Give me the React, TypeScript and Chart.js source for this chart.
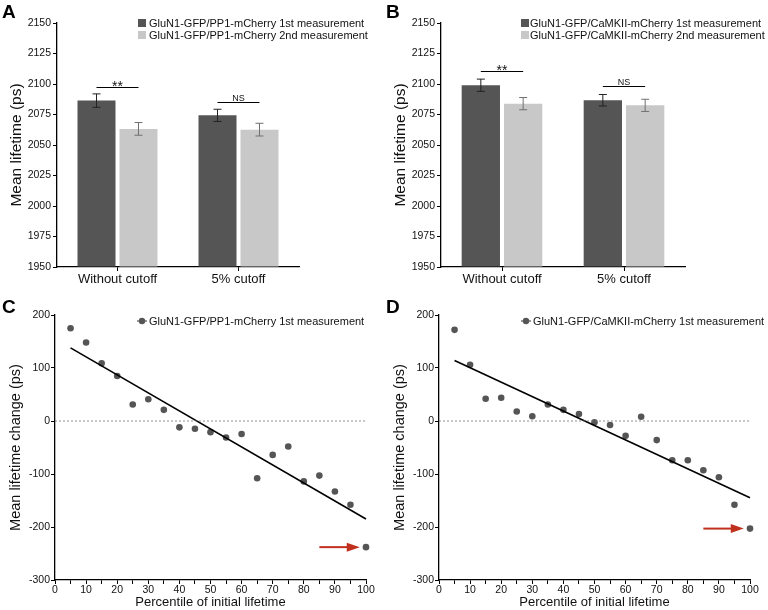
import React, { useEffect, useRef } from 'react';
import { Chart, registerables } from 'chart.js';

Chart.register(...registerables);

const FONT = "'Liberation Sans', Arial, Helvetica, sans-serif";
const TEXT = '#111111';
const DARK = '#555555';
const LIGHT = '#c8c8c8';
const RED = '#c0301e';

// ---------- Bar panels (A, B) ----------
const barCategories = ['Without cutoff', '5% cutoff'];
const barYMin = 1950;
const barYMax = 2150;
const barYStep = 25;
const sigLabels = ['**', 'NS'];

const pp1Legend = ['GluN1-GFP/PP1-mCherry 1st measurement', 'GluN1-GFP/PP1-mCherry 2nd measurement'];
const pp1First = [2086.4, 2074.3];
const pp1Second = [2063.2, 2062.6];
const pp1FirstErr = [5.5, 5.0];
const pp1SecondErr = [5.2, 5.2];
const pp1SigLevels = [2097.4, 2085.6];

const camLegend = ['GluN1-GFP/CaMKII-mCherry 1st measurement', 'GluN1-GFP/CaMKII-mCherry 2nd measurement'];
const camFirst = [2099.0, 2086.7];
const camSecond = [2083.9, 2082.5];
const camFirstErr = [5.0, 4.7];
const camSecondErr = [5.0, 5.0];
const camSigLevels = [2110.8, 2098.0];

// ---------- Scatter panels (C, D) ----------
const percentiles = [5, 10, 15, 20, 25, 30, 35, 40, 45, 50, 55, 60, 65, 70, 75, 80, 85, 90, 95, 100];
const pp1Change = [175, 148, 109, 85, 31, 41, 21, -12, -14.5, -21, -31, -24.5, -108, -64, -48, -114, -103, -133, -158, -238];
const camChange = [172, 106, 42, 44, 18, 9, 31, 21, 13, -2.5, -7.5, -28, 8, -36, -74, -74, -93, -106, -158, -203];
const fitX = [5, 100];
const pp1FitY = [138, -185];
const camFitY = [114, -145];
const zeroLineX = [0, 100];
const arrowX = [85, 98];
const pp1ArrowY = -238;
const camArrowY = -203;
const scatterYMin = -300;
const scatterYMax = 200;
const scatterYStep = 100;
const scatterXMin = 0;
const scatterXMax = 100;
const scatterXStep = 5;
const pp1ScatterLegend = 'GluN1-GFP/PP1-mCherry 1st measurement';
const camScatterLegend = 'GluN1-GFP/CaMKII-mCherry 1st measurement';

function letterPlugin(letter: string, x: number, y: number) {
  return {
    id: 'letter' + letter,
    afterDraw(chart: any) {
      const ctx = chart.ctx;
      ctx.save();
      ctx.fillStyle = '#000';
      ctx.font = `bold 19px ${FONT}`;
      ctx.textAlign = 'left';
      ctx.textBaseline = 'alphabetic';
      ctx.fillText(letter, x, y);
      ctx.restore();
    },
  };
}

function barLegendPlugin(labels: string[], sx: number, tx: number, y0: number) {
  return {
    id: 'barLegend',
    afterDraw(chart: any) {
      const ctx = chart.ctx;
      ctx.save();
      const colors = [DARK, LIGHT];
      labels.forEach((l, i) => {
        const y = y0 + i * 12;
        ctx.fillStyle = colors[i];
        ctx.fillRect(sx, y - 4, 8, 8);
        ctx.fillStyle = TEXT;
        ctx.font = `11px ${FONT}`;
        ctx.textBaseline = 'middle';
        ctx.textAlign = 'left';
        ctx.fillText(l, tx, y + 0.5);
      });
      ctx.restore();
    },
  };
}

function errorBarPlugin(errs: number[][], vals: number[][]) {
  return {
    id: 'errorBars',
    afterDatasetsDraw(chart: any) {
      const ctx = chart.ctx;
      const ys = chart.scales.y;
      const colors = ['#222222', '#707070'];
      ctx.save();
      errs.forEach((arr, i) => {
        const meta = chart.getDatasetMeta(i);
        arr.forEach((e, j) => {
          const bar = meta.data[j];
          const x = bar.x;
          const v = vals[i][j];
          const yt = ys.getPixelForValue(v + e);
          const yb = ys.getPixelForValue(v - e);
          ctx.strokeStyle = colors[i];
          ctx.lineWidth = 1;
          ctx.beginPath();
          ctx.moveTo(x, yt);
          ctx.lineTo(x, yb);
          ctx.moveTo(x - 4, yt);
          ctx.lineTo(x + 4, yt);
          ctx.moveTo(x - 4, yb);
          ctx.lineTo(x + 4, yb);
          ctx.stroke();
        });
      });
      ctx.restore();
    },
  };
}

function sigPlugin(levels: number[], labels: string[]) {
  return {
    id: 'sig',
    afterDatasetsDraw(chart: any) {
      const ctx = chart.ctx;
      const ys = chart.scales.y;
      const m0 = chart.getDatasetMeta(0);
      const m1 = chart.getDatasetMeta(1);
      ctx.save();
      levels.forEach((lv, j) => {
        const x0 = m0.data[j].x;
        const x1 = m1.data[j].x;
        const y = Math.round(ys.getPixelForValue(lv)) + 0.5;
        ctx.strokeStyle = '#000';
        ctx.lineWidth = 1;
        ctx.beginPath();
        ctx.moveTo(x0, y);
        ctx.lineTo(x1, y);
        ctx.stroke();
        ctx.fillStyle = TEXT;
        ctx.textAlign = 'center';
        ctx.textBaseline = 'alphabetic';
        if (labels[j] === '**') {
          ctx.font = `14px ${FONT}`;
          ctx.fillText(labels[j], (x0 + x1) / 2, y + 3);
        } else {
          ctx.font = `9px ${FONT}`;
          ctx.fillText(labels[j], (x0 + x1) / 2, y - 2);
        }
      });
      ctx.restore();
    },
  };
}

function scatterLegendPlugin(label: string, mx: number, tx: number, y: number) {
  return {
    id: 'scatterLegend',
    afterDraw(chart: any) {
      const ctx = chart.ctx;
      ctx.save();
      ctx.strokeStyle = DARK;
      ctx.lineWidth = 1.2;
      ctx.beginPath();
      ctx.moveTo(mx - 5, y);
      ctx.lineTo(mx + 5, y);
      ctx.stroke();
      ctx.fillStyle = DARK;
      ctx.beginPath();
      ctx.arc(mx, y, 3.2, 0, Math.PI * 2);
      ctx.fill();
      ctx.fillStyle = TEXT;
      ctx.font = `11px ${FONT}`;
      ctx.textAlign = 'left';
      ctx.textBaseline = 'middle';
      ctx.fillText(label, tx, y + 0.5);
      ctx.restore();
    },
  };
}

function arrowPlugin(xs: number[], yv: number) {
  return {
    id: 'arrow',
    afterDatasetsDraw(chart: any) {
      const ctx = chart.ctx;
      const sx = chart.scales.x;
      const sy = chart.scales.y;
      const x0 = sx.getPixelForValue(xs[0]);
      const x1 = sx.getPixelForValue(xs[1]);
      const y = sy.getPixelForValue(yv);
      ctx.save();
      ctx.strokeStyle = RED;
      ctx.fillStyle = RED;
      ctx.lineWidth = 2;
      ctx.beginPath();
      ctx.moveTo(x0, y);
      ctx.lineTo(x1 - 10, y);
      ctx.stroke();
      ctx.beginPath();
      ctx.moveTo(x1, y);
      ctx.lineTo(x1 - 13, y - 4.5);
      ctx.lineTo(x1 - 13, y + 4.5);
      ctx.closePath();
      ctx.fill();
      ctx.restore();
    },
  };
}

const tickFont = { family: FONT, size: 10.5 };
const titleFont = { family: FONT, size: 13 };
const plainTick = (v: number | string) => String(v);

function barConfig(first: number[], second: number[], firstErr: number[], secondErr: number[], levels: number[], legend: string[], letter: string, rightPad: number, lsx: number, ltx: number) {
  return {
    type: 'bar',
    data: {
      labels: barCategories,
      datasets: [
        { label: legend[0], data: first, backgroundColor: DARK, base: barYMin, categoryPercentage: 0.694, barPercentage: 0.905 },
        { label: legend[1], data: second, backgroundColor: LIGHT, base: barYMin, categoryPercentage: 0.694, barPercentage: 0.905 },
      ],
    },
    options: {
      animation: false,
      responsive: false,
      devicePixelRatio: 1,
      layout: { padding: { top: 23, right: rightPad, left: 0, bottom: 0 } },
      plugins: { legend: { display: false }, tooltip: { enabled: false } },
      scales: {
        x: {
          type: 'category',
          offset: true,
          grid: { offset: false, drawOnChartArea: false, drawTicks: true, tickLength: 4, color: '#000' },
          border: { display: true, color: '#000', width: 1.3 },
          ticks: { font: { family: FONT, size: 13 }, color: TEXT, padding: 1, maxRotation: 0 },
          afterFit: (s: any) => { s.height = 23; },
        },
        y: {
          min: barYMin,
          max: barYMax,
          ticks: { stepSize: barYStep, font: tickFont, color: TEXT, padding: 2, callback: plainTick },
          grid: { drawOnChartArea: false, drawTicks: true, tickLength: 4, color: '#000' },
          border: { display: true, color: '#000', width: 1.3 },
          title: { display: true, text: 'Mean lifetime (ps)', font: { family: FONT, size: 15.5 }, color: TEXT, padding: { top: 7, bottom: 0 } },
          afterFit: (s: any) => { s.width = 57; },
        },
      },
    },
    plugins: [
      errorBarPlugin([firstErr, secondErr], [first, second]),
      sigPlugin(levels, sigLabels),
      barLegendPlugin(legend, lsx, ltx, 23),
      letterPlugin(letter, 2, 18),
    ],
  };
}

function scatterConfig(values: number[], fitY: number[], arrowY: number, legend: string, letter: string) {
  return {
    type: 'scatter',
    data: {
      datasets: [
        {
          label: 'zero',
          data: zeroLineX.map((x) => ({ x, y: 0 })),
          showLine: true,
          borderColor: '#777777',
          borderWidth: 0.8,
          borderDash: [2, 2],
          pointRadius: 0,
          clip: false,
        },
        {
          label: 'fit',
          data: fitX.map((x, i) => ({ x, y: fitY[i] })),
          showLine: true,
          borderColor: '#000000',
          borderWidth: 1.6,
          pointRadius: 0,
          clip: false,
        },
        {
          label: legend,
          data: percentiles.map((x, i) => ({ x, y: values[i] })),
          backgroundColor: DARK,
          borderColor: DARK,
          pointRadius: 3.3,
          borderWidth: 0,
          clip: false,
        },
      ],
    },
    options: {
      animation: false,
      responsive: false,
      devicePixelRatio: 1,
      layout: { padding: { top: 25, right: 18, left: 0, bottom: 0 } },
      plugins: { legend: { display: false }, tooltip: { enabled: false } },
      scales: {
        x: {
          type: 'linear',
          min: scatterXMin,
          max: scatterXMax,
          ticks: {
            stepSize: scatterXStep,
            autoSkip: false,
            maxRotation: 0,
            font: tickFont,
            color: TEXT,
            padding: 0,
            callback: (v: number) => (v % 10 === 0 ? String(v) : ''),
          },
          grid: { drawOnChartArea: false, drawTicks: true, tickLength: 4, color: '#000' },
          border: { display: true, color: '#000', width: 1.3 },
          title: { display: true, text: 'Percentile of initial lifetime', font: titleFont, color: TEXT, padding: { top: 0, bottom: 0 } },
          afterFit: (s: any) => { s.height = 30; },
        },
        y: {
          min: scatterYMin,
          max: scatterYMax,
          ticks: { stepSize: scatterYStep, font: tickFont, color: TEXT, padding: 1, callback: plainTick },
          grid: { drawOnChartArea: false, drawTicks: true, tickLength: 4, color: '#000' },
          border: { display: true, color: '#000', width: 1.3 },
          title: { display: true, text: 'Mean lifetime change (ps)', font: { family: FONT, size: 14.5 }, color: TEXT, padding: { top: 7, bottom: 0 } },
          afterFit: (s: any) => { s.width = 55; },
        },
      },
    },
    plugins: [
      arrowPlugin(arrowX, arrowY),
      scatterLegendPlugin(legend, 142, 149, 31),
      letterPlugin(letter, 2, 23),
    ],
  };
}

function Panel({ left, top, width, height, make }: { left: number; top: number; width: number; height: number; make: () => any }) {
  const ref = useRef<HTMLCanvasElement>(null);
  useEffect(() => {
    if (!ref.current) return;
    const chart = new Chart(ref.current, make());
    return () => chart.destroy();
  }, []);
  return (
    <canvas
      ref={ref}
      width={width}
      height={height}
      style={{ position: 'absolute', left, top, width, height }}
    />
  );
}

export default function App() {
  return (
    <div style={{ position: 'absolute', left: 0, top: 0, width: 768, height: 610, background: '#fff', overflow: 'hidden' }}>
      <Panel left={0} top={0} width={384} height={290}
        make={() => barConfig(pp1First, pp1Second, pp1FirstErr, pp1SecondErr, pp1SigLevels, pp1Legend, 'A', 85, 138, 149)} />
      <Panel left={384} top={0} width={384} height={290}
        make={() => barConfig(camFirst, camSecond, camFirstErr, camSecondErr, camSigLevels, camLegend, 'B', 83, 137, 146)} />
      <Panel left={0} top={290} width={384} height={320}
        make={() => scatterConfig(pp1Change, pp1FitY, pp1ArrowY, pp1ScatterLegend, 'C')} />
      <Panel left={384} top={290} width={384} height={320}
        make={() => scatterConfig(camChange, camFitY, camArrowY, camScatterLegend, 'D')} />
    </div>
  );
}
